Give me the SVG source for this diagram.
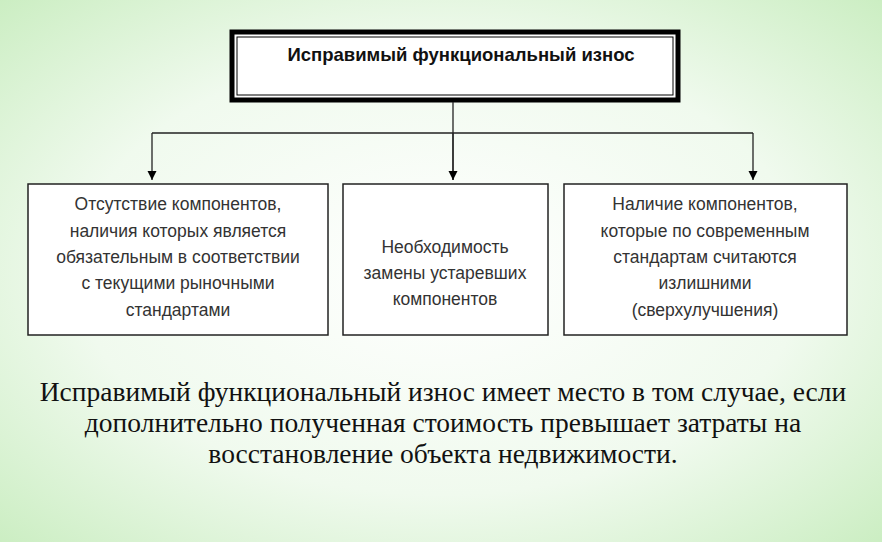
<svg xmlns="http://www.w3.org/2000/svg" width="882" height="542" viewBox="0 0 882 542">
<defs>
<radialGradient id="bg" cx="0.5" cy="0.5" r="0.75">
<stop offset="0" stop-color="#ffffff"/><stop offset="0.55" stop-color="#f0faee"/><stop offset="1" stop-color="#c6ecbc"/>
</radialGradient>
<marker id="ar" viewBox="0 0 10 10" refX="10" refY="5" markerWidth="7" markerHeight="7" orient="auto"><path d="M0,0 L10,5 L0,10 z" fill="#000"/></marker>
<style>
.b{fill:#fff;stroke:#222;stroke-width:1.5}
.t{font-family:"Liberation Sans",Arial,sans-serif;font-size:17.5px;fill:#333;text-anchor:middle}
.c{stroke:#222;stroke-width:1.3;fill:none}
.m{font-family:"Liberation Serif","Times New Roman",serif;font-size:27.5px;fill:#111;text-anchor:middle}
</style>
</defs>
<rect width="882" height="542" fill="url(#bg)"/>
<g id="top">
<rect x="232" y="32" width="446" height="68" fill="#fff" stroke="#000" stroke-width="5"/>
<rect x="237" y="37" width="436" height="58" fill="none" stroke="#000" stroke-width="1"/>
<text x="461" y="61" class="t" style="font-weight:bold;fill:#111;font-size:18.5px">Исправимый функциональный износ</text>
</g>
<g id="connectors">
<path class="c" d="M453,102 V180"/>
<path class="c" d="M152,133 H753"/>
<path class="c" d="M152,133 V180" marker-end="url(#ar)"/>
<path class="c" d="M453,133 V180" marker-end="url(#ar)"/>
<path class="c" d="M753,133 V180" marker-end="url(#ar)"/>
</g>
<g id="n1">
<rect class="b" x="28" y="184" width="300" height="151"/>
<text class="t"><tspan x="178" y="210">Отсутствие компонентов,</tspan><tspan x="178" y="237">наличия которых является</tspan><tspan x="178" y="263">обязательным в соответствии</tspan><tspan x="178" y="289">с текущими рыночными</tspan><tspan x="178" y="316">стандартами</tspan></text>
</g>
<g id="n2">
<rect class="b" x="343" y="184" width="205" height="151"/>
<text class="t"><tspan x="445" y="253">Необходимость</tspan><tspan x="445" y="279">замены устаревших</tspan><tspan x="445" y="305">компонентов</tspan></text>
</g>
<g id="n3">
<rect class="b" x="564" y="184" width="283" height="151"/>
<text class="t"><tspan x="705" y="210">Наличие компонентов,</tspan><tspan x="705" y="237">которые по современным</tspan><tspan x="705" y="263">стандартам считаются</tspan><tspan x="705" y="289">излишними</tspan><tspan x="705" y="316">(сверхулучшения)</tspan></text>
</g>
<g id="caption">
<text class="m"><tspan x="443" y="401">Исправимый функциональный износ имеет место в том случае, если</tspan><tspan x="443" y="432">дополнительно полученная стоимость превышает затраты на</tspan><tspan x="443" y="463">восстановление объекта недвижимости.</tspan></text>
</g>
</svg>
